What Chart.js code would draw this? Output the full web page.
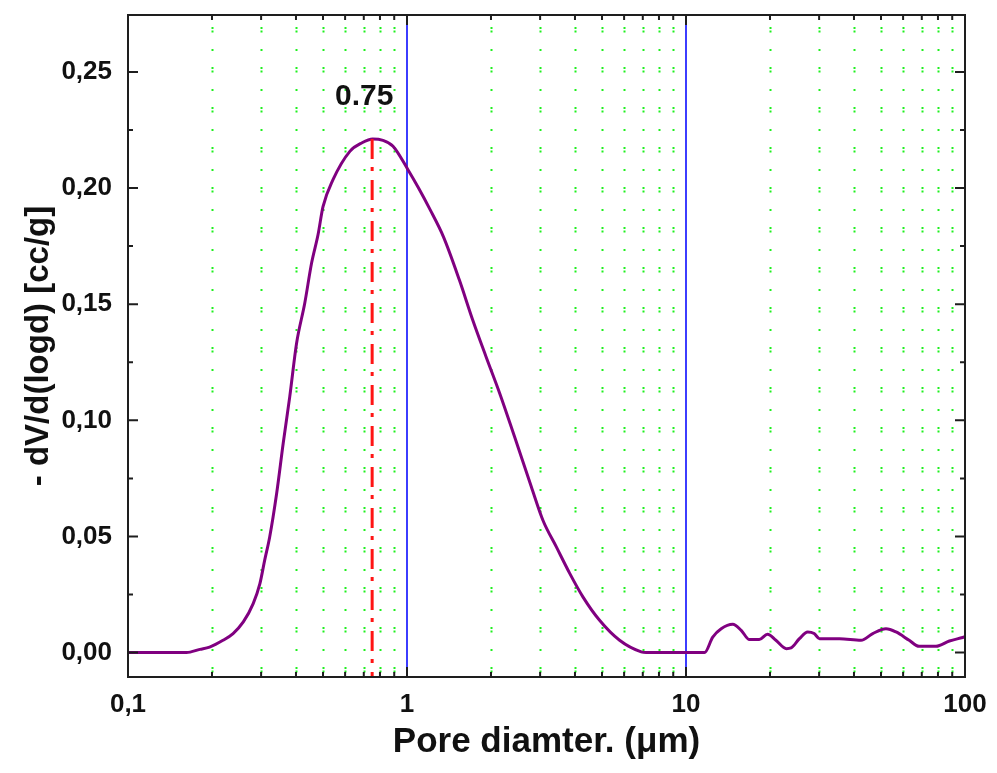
<!DOCTYPE html>
<html lang="en">
<head>
<meta charset="UTF-8">
<title>Pore size distribution</title>
<script src="https://cdn.jsdelivr.net/npm/chart.js"></script>
<style>
  html, body { margin: 0; padding: 0; background: #fff; }
  canvas { display: block; background-color: white; }
</style>
</head>
<body>
<canvas id="poreChart" width="997" height="773"></canvas>
<script>
// pore diameter (um) and -dV/d(logd) (cc/g)
const poreDiameter = [
  0.1, 0.162, 0.181, 0.196, 0.219, 0.238, 0.259, 0.281, 0.297, 0.309,
  0.322, 0.341, 0.360, 0.380, 0.402, 0.430, 0.455, 0.480, 0.500, 0.543,
  0.624, 0.69, 0.753, 0.82, 0.891, 1.008, 1.10, 1.21, 1.35, 1.54,
  1.72, 1.92, 2.15, 2.43, 2.79, 3.07, 3.43, 3.83, 4.27, 4.90,
  5.78, 6.91, 7.2, 11.65, 12.47, 13.37, 14.71, 15.77, 16.88, 18.3,
  19.6, 21.0, 22.9, 23.8, 25.5, 27.3, 28.8, 30.1, 35.5, 42.4,
  46.7, 52.1, 56.6, 63.1, 68.5, 78.7, 87.9, 98.1, 100
];
const dVdlogd = [
  0, 0, 0.0014, 0.0024, 0.0053, 0.0082, 0.0132, 0.0211, 0.0297, 0.0398,
  0.0498, 0.0685, 0.0901, 0.1102, 0.1332, 0.1504, 0.1677, 0.1800, 0.1920, 0.2036,
  0.2158, 0.2195, 0.2211, 0.2205, 0.2180, 0.2079, 0.2000, 0.1907, 0.1791, 0.1605,
  0.1432, 0.1274, 0.1116, 0.0929, 0.0714, 0.0570, 0.0455, 0.0341, 0.0240, 0.0139,
  0.0053, 0.0003, 0, 0, 0.0067, 0.0103, 0.0122, 0.0096, 0.0056, 0.0056,
  0.0079, 0.0053, 0.0017, 0.0020, 0.0060, 0.0089, 0.0082, 0.0060, 0.0060, 0.0053,
  0.0082, 0.0103, 0.0089, 0.0053, 0.0027, 0.0027, 0.0050, 0.0065, 0.0068
];

const peakDiameter = 0.75;
const peakValue = 0.2211;
const peakLabel = '0.75';
const peakLabelValue = 0.2393;

const xMajorTicks = [0.1, 1, 10, 100];
const xTickLabels = ['0,1', '1', '10', '100'];
const yTicks = [0, 0.05, 0.10, 0.15, 0.20, 0.25];
const yMin = -0.0105;
const yMax = 0.2745;

// minor decade positions 2..9
const xMinorTicks = [];
[0.1, 1, 10].forEach(d => { for (let m = 2; m <= 9; m++) xMinorTicks.push(m * d); });
const yMinorTicks = [0.025, 0.075, 0.125, 0.175, 0.225];

const curve = poreDiameter.map((d, i) => ({ x: d, y: dVdlogd[i] }));

const FONT = '"Liberation Sans", Arial, sans-serif';

// grid lines behind the data, frame + inward ticks on top
const framePlugin = {
  id: 'framePlugin',
  beforeDatasetsDraw(chart) {
    const { ctx, chartArea: a, scales: { x } } = chart;
    ctx.save();
    ctx.strokeStyle = 'rgb(30,240,30)';
    ctx.lineWidth = 2;
    ctx.setLineDash([2, 1.5, 2, 16.5, 2, 16]);
    ctx.lineDashOffset = 28;
    xMinorTicks.forEach(v => {
      const px = Math.round(x.getPixelForValue(v)) + 0.5;
      ctx.beginPath();
      ctx.moveTo(px, a.top);
      ctx.lineTo(px, a.bottom);
      ctx.stroke();
    });
    ctx.setLineDash([]);
    ctx.strokeStyle = '#1a1aff';
    ctx.lineWidth = 1.7;
    [1, 10].forEach(v => {
      const px = x.getPixelForValue(v);
      ctx.beginPath();
      ctx.moveTo(px, a.top);
      ctx.lineTo(px, a.bottom);
      ctx.stroke();
    });
    ctx.restore();
  },
  afterDatasetsDraw(chart) {
    const { ctx, chartArea: a, scales: { x, y } } = chart;
    ctx.save();
    ctx.strokeStyle = '#1e1e1e';
    ctx.lineWidth = 2;
    ctx.beginPath();
    // x ticks (top and bottom)
    const xt = (v, len) => {
      const px = x.getPixelForValue(v);
      ctx.moveTo(px, a.top); ctx.lineTo(px, a.top + len);
      ctx.moveTo(px, a.bottom); ctx.lineTo(px, a.bottom - len);
    };
    [1, 10].forEach(v => xt(v, 10));
    xMinorTicks.forEach(v => xt(v, 5));
    // y ticks (left and right)
    const yt = (v, len) => {
      const py = y.getPixelForValue(v);
      ctx.moveTo(a.left, py); ctx.lineTo(a.left + len, py);
      ctx.moveTo(a.right, py); ctx.lineTo(a.right - len, py);
    };
    yTicks.forEach(v => yt(v, 10));
    yMinorTicks.forEach(v => yt(v, 5));
    ctx.stroke();
    ctx.strokeRect(a.left, a.top, a.right - a.left, a.bottom - a.top);

    // peak label
    ctx.fillStyle = '#111';
    ctx.font = 'bold 30px ' + FONT;
    ctx.textAlign = 'center';
    ctx.textBaseline = 'middle';
    ctx.fillText(peakLabel, x.getPixelForValue(peakDiameter) - 8, y.getPixelForValue(peakLabelValue));
    ctx.restore();
  }
};

const ctx = document.getElementById('poreChart').getContext('2d');
new Chart(ctx, {
  type: 'line',
  data: {
    datasets: [
      {
        label: 'peak',
        data: [{ x: peakDiameter, y: peakValue }, { x: peakDiameter, y: yMin }],
        borderColor: '#ff1414',
        borderWidth: 3,
        borderDash: [20, 8, 4, 9],
        pointRadius: 0,
        fill: false
      },
      {
        label: '-dV/d(logd)',
        data: curve,
        borderColor: '#800080',
        borderWidth: 3,
        pointRadius: 0,
        cubicInterpolationMode: 'monotone',
        fill: false
      }
    ]
  },
  options: {
    responsive: false,
    animation: false,
    devicePixelRatio: 1,
    layout: { padding: { top: 15, right: 32, left: 0, bottom: 0 } },
    plugins: {
      legend: { display: false },
      tooltip: { enabled: false }
    },
    scales: {
      x: {
        type: 'logarithmic',
        min: 0.1,
        max: 100,
        grid: { display: false, drawTicks: false },
        border: { display: false },
        afterBuildTicks: s => { s.ticks = xMajorTicks.map(v => ({ value: v })); },
        afterFit: s => { s.height = 96; s.paddingLeft = 0; s.paddingRight = 0; },
        ticks: {
          autoSkip: false,
          maxRotation: 0,
          padding: 12,
          color: '#111',
          font: { family: FONT, size: 26, weight: 'bold' },
          callback: v => {
            const i = xMajorTicks.findIndex(t => Math.abs(t - v) < 1e-9);
            return i >= 0 ? xTickLabels[i] : '';
          }
        },
        title: {
          display: true,
          text: 'Pore diamter. (\u03bcm)',
          color: '#111',
          padding: { top: 0, bottom: 10 },
          font: { family: FONT, size: 35, weight: 'bold' }
        }
      },
      y: {
        type: 'linear',
        min: yMin,
        max: yMax,
        grid: { display: false, drawTicks: false },
        border: { display: false },
        afterBuildTicks: s => { s.ticks = yTicks.map(v => ({ value: v })); },
        afterFit: s => { s.width = 128; s.paddingTop = 0; s.paddingBottom = 0; },
        ticks: {
          padding: 16,
          color: '#111',
          font: { family: FONT, size: 26, weight: 'bold' },
          callback: v => v.toFixed(2).replace('.', ',')
        },
        title: {
          display: true,
          text: '- dV/d(logd) [cc/g]',
          color: '#111',
          padding: { top: 19, bottom: 0 },
          font: { family: FONT, size: 33, weight: 'bold' }
        }
      }
    }
  },
  plugins: [framePlugin]
});
</script>
</body>
</html>
